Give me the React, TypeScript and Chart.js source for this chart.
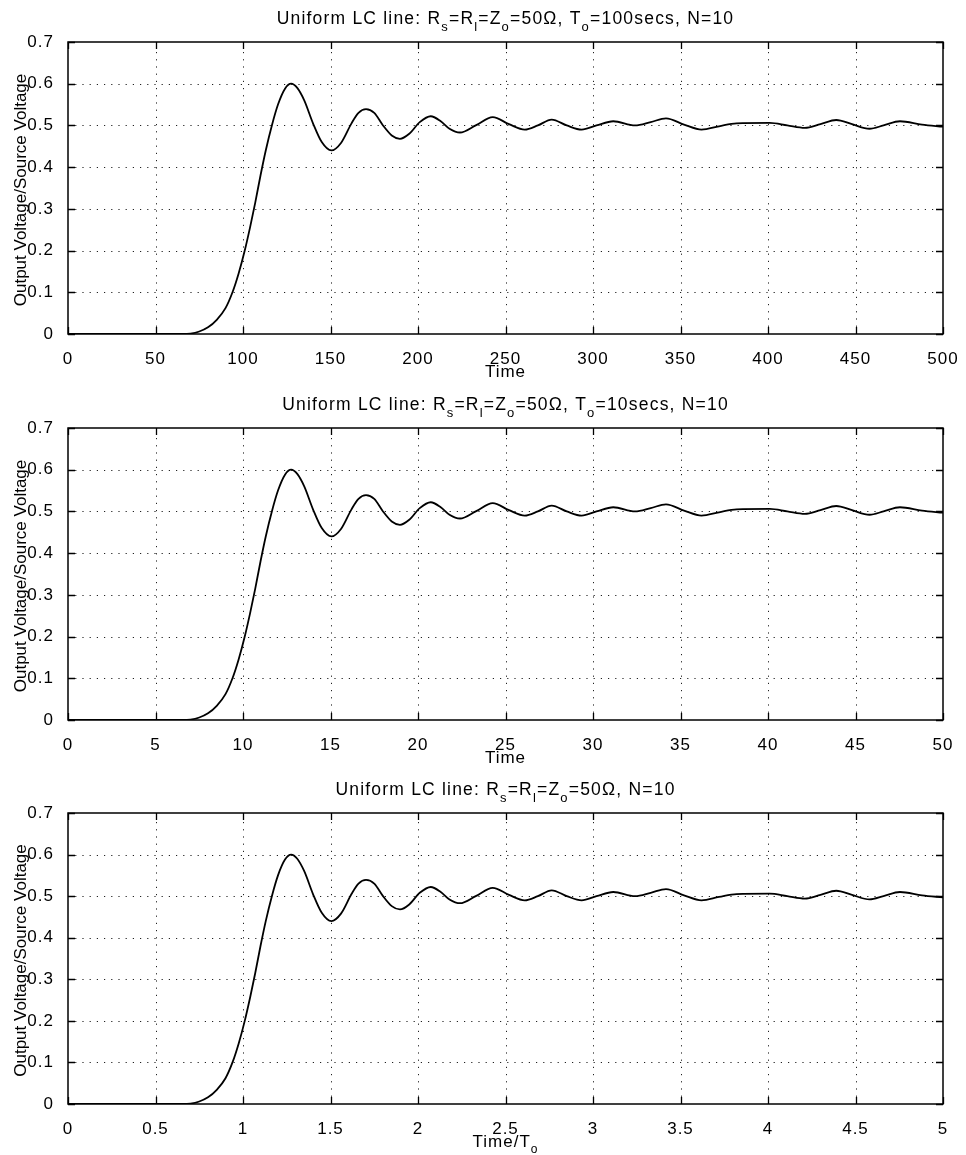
import React, { useEffect, useRef } from "react";
import { Chart, registerables } from "chart.js";

Chart.register(...registerables);

// ---- Data (same response in all three panels) ----
const VALUES = [
  0, 0, 0.001, 0.006, 0.016, 0.034, 0.062, 0.1, 0.145, 0.2,
  0.255, 0.315, 0.38, 0.44, 0.5, 0.55, 0.588, 0.6, 0.59, 0.56,
  0.505, 0.46, 0.44, 0.458, 0.505, 0.53, 0.539, 0.53, 0.5, 0.476,
  0.468, 0.48, 0.508, 0.522, 0.51, 0.492, 0.483, 0.5, 0.52, 0.503,
  0.49, 0.5, 0.514, 0.5, 0.49, 0.5, 0.51, 0.5, 0.508, 0.517,
  0.502, 0.49, 0.498, 0.505, 0.506, 0.5, 0.494, 0.503, 0.513, 0.503,
  0.492, 0.5, 0.51, 0.502, 0.497,
];

// Time axis, T0 = 100 secs
const TIME_100 = [
  0, 65, 70, 75, 80, 85, 90, 94, 97.5, 101,
  104, 107, 110, 113, 116.5, 120, 124, 127.5, 131, 135,
  140, 145, 150.5, 156, 162, 166, 170.3, 175, 180, 185,
  189.7, 195, 201, 207.3, 213, 218, 224, 233, 242.7, 252,
  261, 268.5, 276.4, 285, 293.5, 302, 311.6, 324, 333, 341.7,
  352, 362, 372, 382, 401, 411, 421, 430, 439, 448,
  458, 466, 475.4, 488, 500,
];

// Time axis, T0 = 10 secs
const TIME_10 = [
  0, 6.5, 7, 7.5, 8, 8.5, 9, 9.4, 9.75, 10.1,
  10.4, 10.7, 11, 11.3, 11.65, 12, 12.4, 12.75, 13.1, 13.5,
  14, 14.5, 15.05, 15.6, 16.2, 16.6, 17.03, 17.5, 18, 18.5,
  18.97, 19.5, 20.1, 20.73, 21.3, 21.8, 22.4, 23.3, 24.27, 25.2,
  26.1, 26.85, 27.64, 28.5, 29.35, 30.2, 31.16, 32.4, 33.3, 34.17,
  35.2, 36.2, 37.2, 38.2, 40.1, 41.1, 42.1, 43, 43.9, 44.8,
  45.8, 46.6, 47.54, 48.8, 50,
];

// Normalised time, Time/T0
const TIME_NORM = [
  0, 0.65, 0.7, 0.75, 0.8, 0.85, 0.9, 0.94, 0.975, 1.01,
  1.04, 1.07, 1.1, 1.13, 1.165, 1.2, 1.24, 1.275, 1.31, 1.35,
  1.4, 1.45, 1.505, 1.56, 1.62, 1.66, 1.703, 1.75, 1.8, 1.85,
  1.897, 1.95, 2.01, 2.073, 2.13, 2.18, 2.24, 2.33, 2.427, 2.52,
  2.61, 2.685, 2.764, 2.85, 2.935, 3.02, 3.116, 3.24, 3.33, 3.417,
  3.52, 3.62, 3.72, 3.82, 4.01, 4.11, 4.21, 4.3, 4.39, 4.48,
  4.58, 4.66, 4.754, 4.88, 5,
];

const Y_TICKS = [0, 0.1, 0.2, 0.3, 0.4, 0.5, 0.6, 0.7];
const Y_TICK_LABELS = ["0", "0.1", "0.2", "0.3", "0.4", "0.5", "0.6", "0.7"];

const X_TICKS_1 = [0, 50, 100, 150, 200, 250, 300, 350, 400, 450, 500];
const X_TICK_LABELS_1 = ["0", "50", "100", "150", "200", "250", "300", "350", "400", "450", "500"];
const X_TICKS_2 = [0, 5, 10, 15, 20, 25, 30, 35, 40, 45, 50];
const X_TICK_LABELS_2 = ["0", "5", "10", "15", "20", "25", "30", "35", "40", "45", "50"];
const X_TICKS_3 = [0, 0.5, 1, 1.5, 2, 2.5, 3, 3.5, 4, 4.5, 5];
const X_TICK_LABELS_3 = ["0", "0.5", "1", "1.5", "2", "2.5", "3", "3.5", "4", "4.5", "5"];

type Seg = [string, boolean]; // [text, isSubscript]

const TITLE_1: Seg[] = [
  ["Uniform LC line: R", false], ["s", true], ["=R", false], ["l", true],
  ["=Z", false], ["o", true], ["=50\u03A9, T", false], ["o", true], ["=100secs, N=10", false],
];
const TITLE_2: Seg[] = [
  ["Uniform LC line: R", false], ["s", true], ["=R", false], ["l", true],
  ["=Z", false], ["o", true], ["=50\u03A9, T", false], ["o", true], ["=10secs, N=10", false],
];
const TITLE_3: Seg[] = [
  ["Uniform LC line: R", false], ["s", true], ["=R", false], ["l", true],
  ["=Z", false], ["o", true], ["=50\u03A9, N=10", false],
];
const X_LABEL_1: Seg[] = [["Time", false]];
const X_LABEL_3: Seg[] = [["Time/T", false], ["o", true]];
const Y_LABEL = "Output Voltage/Source Voltage";

const FONT = '"Liberation Sans", Arial, Helvetica, sans-serif';

function drawRich(
  ctx: CanvasRenderingContext2D,
  segs: Seg[],
  cx: number,
  cy: number,
  size: number,
  spacing: number
) {
  const subSize = Math.round(size * 0.72);
  const subDrop = Math.round(size * 0.38);
  ctx.save();
  (ctx as any).letterSpacing = spacing + "px";
  ctx.fillStyle = "#000";
  ctx.textAlign = "left";
  ctx.textBaseline = "alphabetic";
  let w = 0;
  for (const [t, sub] of segs) {
    ctx.font = `${sub ? subSize : size}px ${FONT}`;
    w += ctx.measureText(t).width;
  }
  let x = cx - w / 2;
  const base = cy + size * 0.36;
  for (const [t, sub] of segs) {
    ctx.font = `${sub ? subSize : size}px ${FONT}`;
    ctx.fillText(t, x, sub ? base + subDrop : base);
    x += ctx.measureText(t).width;
  }
  ctx.restore();
}

const panelPlugin = {
  id: "panel",
  beforeUpdate(chart: any) {
    chart.ctx.letterSpacing = "1px";
  },
  beforeDraw(chart: any) {
    chart.ctx.letterSpacing = "1px";
  },
  beforeDatasetsDraw(chart: any) {
    const { ctx, chartArea, scales } = chart;
    const { left, right, top, bottom } = chartArea;
    ctx.save();
    ctx.strokeStyle = "#222";
    ctx.lineWidth = 1;
    ctx.setLineDash([1.2, 6]);
    for (const t of scales.x.ticks) {
      const px = Math.round(scales.x.getPixelForValue(t.value)) + 0.5;
      if (px <= left + 2 || px >= right - 2) continue;
      ctx.beginPath();
      ctx.moveTo(px, bottom);
      ctx.lineTo(px, top);
      ctx.stroke();
    }
    for (const t of scales.y.ticks) {
      const py = Math.round(scales.y.getPixelForValue(t.value)) + 0.5;
      if (py <= top + 2 || py >= bottom - 2) continue;
      ctx.beginPath();
      ctx.moveTo(left, py);
      ctx.lineTo(right, py);
      ctx.stroke();
    }
    ctx.restore();
  },
  afterDatasetsDraw(chart: any, _args: any, opts: any) {
    const { ctx, chartArea, scales } = chart;
    const { left, right, top, bottom } = chartArea;
    ctx.save();
    ctx.setLineDash([]);
    ctx.strokeStyle = "#000";
    ctx.lineWidth = 1.5;
    ctx.strokeRect(left, top, right - left, bottom - top);
    const tl = 7;
    ctx.lineWidth = 1.3;
    ctx.beginPath();
    for (const t of scales.x.ticks) {
      const px = Math.round(scales.x.getPixelForValue(t.value)) + 0.5;
      ctx.moveTo(px, bottom);
      ctx.lineTo(px, bottom - tl);
      ctx.moveTo(px, top);
      ctx.lineTo(px, top + tl);
    }
    for (const t of scales.y.ticks) {
      const py = Math.round(scales.y.getPixelForValue(t.value)) + 0.5;
      ctx.moveTo(left, py);
      ctx.lineTo(left + tl, py);
      ctx.moveTo(right, py);
      ctx.lineTo(right - tl, py);
    }
    ctx.stroke();
    ctx.restore();

    const cx = (left + right) / 2;
    drawRich(ctx, opts.title, cx, top - 24, 17.5, 1.2);
    drawRich(ctx, opts.xLabel, cx, bottom + 37, 17, 1);

    ctx.save();
    (ctx as any).letterSpacing = "0px";
    ctx.fillStyle = "#000";
    ctx.font = `17px ${FONT}`;
    ctx.textAlign = "center";
    ctx.textBaseline = "middle";
    ctx.translate(21, (top + bottom) / 2 + 2);
    ctx.rotate(-Math.PI / 2);
    ctx.fillText(opts.yLabel, 0, 0);
    ctx.restore();
  },
};

type PanelProps = {
  top: number;
  height: number;
  padTop: number;
  axisH: number;
  times: number[];
  xMax: number;
  xTicks: number[];
  xTickLabels: string[];
  title: Seg[];
  xLabel: Seg[];
};

function Panel(p: PanelProps) {
  const ref = useRef<HTMLCanvasElement>(null);
  useEffect(() => {
    if (!ref.current) return;
    const chart = new Chart(ref.current, {
      type: "line",
      data: {
        datasets: [
          {
            data: p.times.map((t, i) => ({ x: t, y: VALUES[i] })),
            borderColor: "#000",
            borderWidth: 1.8,
            pointRadius: 0,
            fill: false,
            cubicInterpolationMode: "monotone",
          },
        ],
      },
      options: {
        animation: false,
        responsive: false,
        events: [],
        layout: { padding: { left: 0, right: 23, top: p.padTop, bottom: 0 } },
        plugins: {
          legend: { display: false },
          title: { display: false },
          tooltip: { enabled: false },
          panel: { title: p.title, xLabel: p.xLabel, yLabel: Y_LABEL },
        } as any,
        scales: {
          x: {
            type: "linear",
            min: 0,
            max: p.xMax,
            grid: { display: false },
            border: { display: false },
            afterBuildTicks: (s: any) => {
              s.ticks = p.xTicks.map((v) => ({ value: v }));
            },
            afterFit: (s: any) => {
              s.height = p.axisH;
            },
            ticks: {
              color: "#000",
              font: { family: FONT, size: 17 },
              padding: 7,
              maxRotation: 0,
              autoSkip: false,
              callback: (_v: any, i: number) => p.xTickLabels[i],
            },
          },
          y: {
            type: "linear",
            min: 0,
            max: 0.7,
            grid: { display: false },
            border: { display: false },
            afterBuildTicks: (s: any) => {
              s.ticks = Y_TICKS.map((v) => ({ value: v }));
            },
            afterFit: (s: any) => {
              s.width = 68;
            },
            ticks: {
              color: "#000",
              font: { family: FONT, size: 17 },
              padding: 6,
              autoSkip: false,
              callback: (_v: any, i: number) => Y_TICK_LABELS[i],
            },
          },
        },
      } as any,
      plugins: [panelPlugin as any],
    });
    return () => chart.destroy();
  }, []);
  return (
    <canvas
      ref={ref}
      width={966}
      height={p.height}
      style={{ position: "absolute", left: 0, top: p.top, display: "block" }}
    />
  );
}

export default function App() {
  return (
    <div
      style={{
        position: "absolute",
        left: 0,
        top: 0,
        width: 966,
        height: 1155,
        overflow: "hidden",
        background: "#fff",
      }}
    >
      <Panel top={0} height={386} padTop={42} axisH={52} times={TIME_100} xMax={500}
        xTicks={X_TICKS_1} xTickLabels={X_TICK_LABELS_1} title={TITLE_1} xLabel={X_LABEL_1} />
      <Panel top={386} height={386} padTop={42} axisH={52} times={TIME_10} xMax={50}
        xTicks={X_TICKS_2} xTickLabels={X_TICK_LABELS_2} title={TITLE_2} xLabel={X_LABEL_1} />
      <Panel top={772} height={383} padTop={41} axisH={51} times={TIME_NORM} xMax={5}
        xTicks={X_TICKS_3} xTickLabels={X_TICK_LABELS_3} title={TITLE_3} xLabel={X_LABEL_3} />
    </div>
  );
}
